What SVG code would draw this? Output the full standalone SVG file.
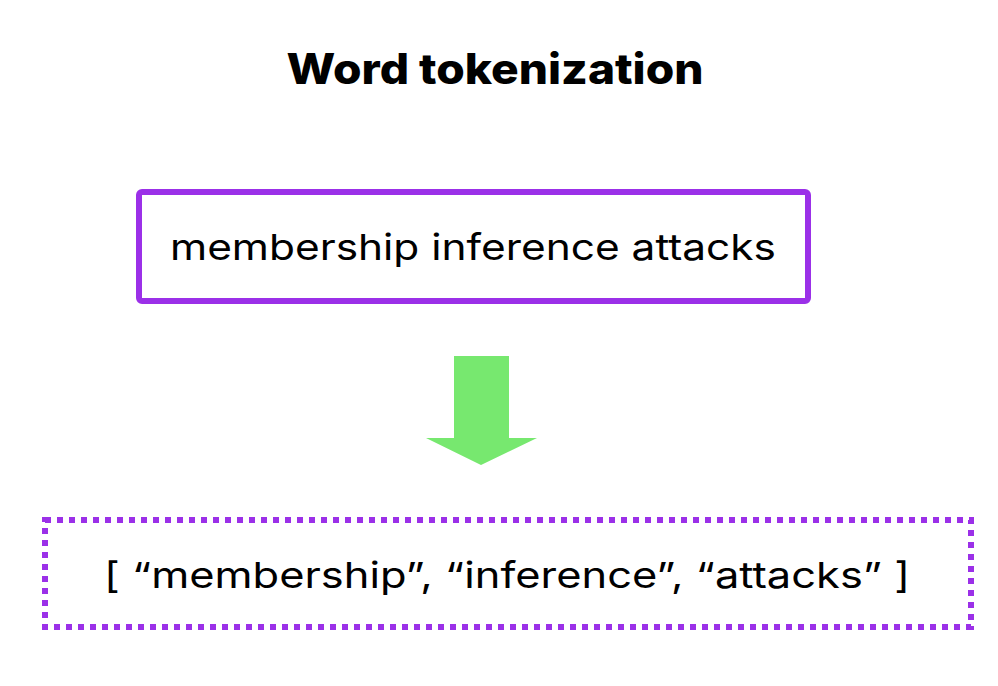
<svg xmlns="http://www.w3.org/2000/svg" width="998" height="686" viewBox="0 0 998 686">
<style>
.t{font-family:Inter,"Liberation Sans",Arial,sans-serif;fill:#000}
.box{fill:#fff;stroke:#9B30E8;stroke-width:6}
</style>
<rect width="998" height="686" fill="#fff"/>
<text class="t" x="495" y="84" font-size="42" font-weight="800" text-anchor="middle" textLength="417" lengthAdjust="spacingAndGlyphs">Word tokenization</text>
<g id="input">
<rect class="box" x="139" y="192" width="669" height="109" rx="3"/>
<text class="t" x="473" y="260" font-size="36" text-anchor="middle" textLength="606" lengthAdjust="spacingAndGlyphs">membership inference attacks</text>
</g>
<g id="connectors">
<polygon points="454,356 509,356 509,438 537,438 481,465 426,438 454,438" fill="#77E86F"/>
</g>
<g id="output">
<rect class="box" x="45" y="520" width="926" height="107" stroke-dasharray="6 6"/>
<text class="t" x="507" y="588" font-size="36" text-anchor="middle" textLength="806" lengthAdjust="spacingAndGlyphs">[ “membership”, “inference”, “attacks” ]</text>
</g>
</svg>
